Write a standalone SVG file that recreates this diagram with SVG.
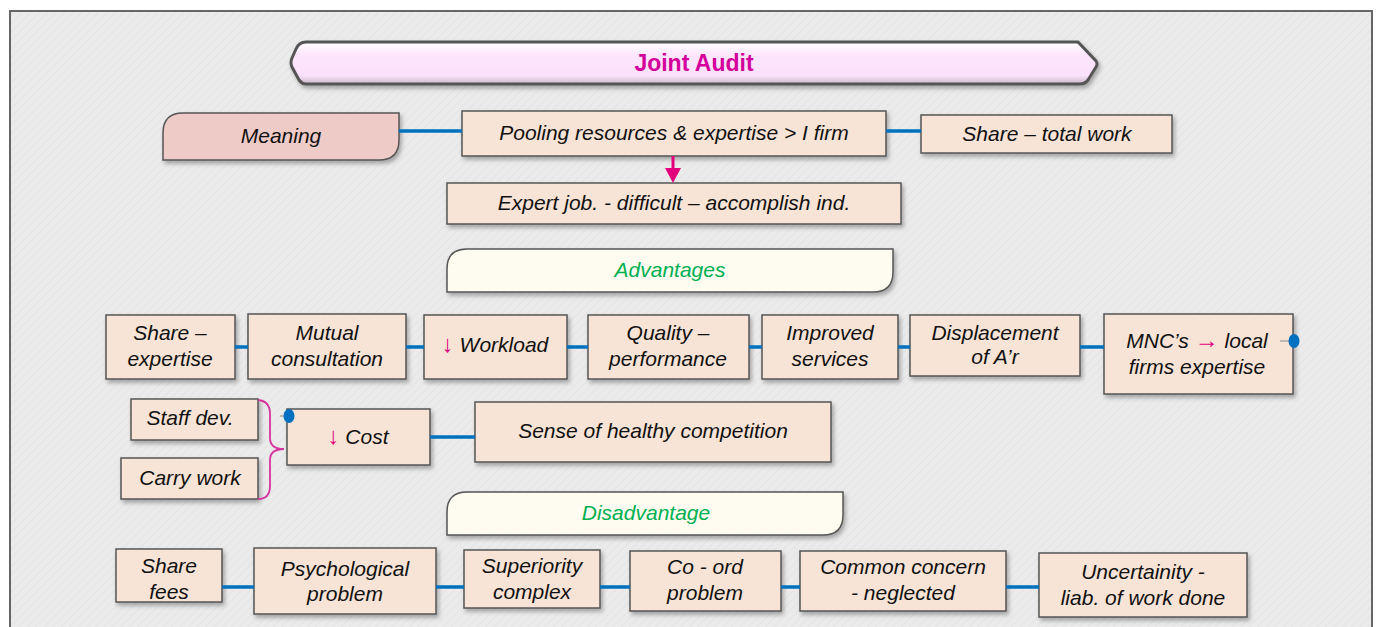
<svg xmlns="http://www.w3.org/2000/svg" width="1376" height="627" viewBox="0 0 1376 627">
<defs>
<filter id="sh" x="-10%" y="-20%" width="125%" height="150%">
<feDropShadow dx="2" dy="3" stdDeviation="2" flood-color="#000" flood-opacity="0.3"/>
</filter>
<linearGradient id="tg" x1="0" y1="0" x2="0" y2="1">
<stop offset="0" stop-color="#ffffff"/>
<stop offset="0.3" stop-color="#fde6fd"/>
<stop offset="0.8" stop-color="#fbe1fb"/>
<stop offset="1" stop-color="#c9b9c9"/>
</linearGradient>
<pattern id="bgp" width="6" height="6" patternUnits="userSpaceOnUse" patternTransform="rotate(45)">
<rect width="6" height="6" fill="#ebebeb"/>
<line x1="0" y1="0" x2="0" y2="6" stroke="#e4e4e4" stroke-width="2"/>
</pattern>
</defs>
<style>
.box{fill:#f7e4d6;stroke:#555;stroke-width:1.5;filter:url(#sh)}
.t{font-family:"Liberation Sans","DejaVu Sans",sans-serif;font-style:italic;font-size:21px;fill:#111;text-anchor:middle}
.g{fill:#00b050}
.m{fill:#e3007d;font-style:normal;font-weight:bold;font-size:24px}
.c{stroke:#0070c0;stroke-width:3.5;fill:none}
</style>
<rect x="0" y="0" width="1376" height="627" fill="#ffffff"/>
<rect x="10" y="11" width="1362" height="630" fill="url(#bgp)" stroke="#666" stroke-width="2"/>

<g id="title">
<path d="M306,42 L1078,42 L1096,61 Q1098,64 1096,67 L1088,80 Q1085,84 1080,84 L306,84 Q302,84 299,80 L292,67 Q290,63 292,58 L296,49 Q299,42 306,42 Z" fill="url(#tg)" stroke="#555" stroke-width="3" filter="url(#sh)"/>
<text x="694" y="71" font-family="'Liberation Sans',sans-serif" font-weight="bold" font-size="23" fill="#d4009b" text-anchor="middle">Joint Audit</text>
</g>

<g id="meaning">
<path d="M183,113 L399,113 L399,140 Q399,160 379,160 L163,160 L163,133 Q163,113 183,113 Z" fill="#efcbc8" stroke="#555" stroke-width="1.5" filter="url(#sh)"/>
<text class="t" x="281" y="143">Meaning</text>
</g>
<g id="pooling"><rect class="box" x="462" y="111" width="424" height="45"/><text class="t" x="674" y="140">Pooling resources &amp; expertise &gt; I firm</text></g>
<g id="share-total"><rect class="box" x="921" y="115" width="251" height="38"/><text class="t" x="1047" y="141">Share – total work</text></g>
<g id="expert"><rect class="box" x="447" y="183" width="454" height="41"/><text class="t" x="674" y="210">Expert job. - difficult – accomplish ind.</text></g>

<g id="advantages">
<path d="M467,249 L893,249 L893,272 Q893,292 873,292 L447,292 L447,269 Q447,249 467,249 Z" fill="#fefbf0" stroke="#555" stroke-width="1.5" filter="url(#sh)"/>
<text class="t g" x="670" y="277">Advantages</text>
</g>

<g id="share-expertise"><rect class="box" x="106" y="315" width="129" height="64"/><text class="t" x="170" y="340">Share –</text><text class="t" x="170" y="366">expertise</text></g>
<g id="mutual"><rect class="box" x="248" y="314" width="158" height="65"/><text class="t" x="327" y="340">Mutual</text><text class="t" x="327" y="366">consultation</text></g>
<g id="workload"><rect class="box" x="424" y="315" width="143" height="64"/><text class="t" x="495" y="352"><tspan class="m">↓</tspan> Workload</text></g>
<g id="quality"><rect class="box" x="588" y="315" width="161" height="64"/><text class="t" x="668" y="340">Quality –</text><text class="t" x="668" y="366">performance</text></g>
<g id="improved"><rect class="box" x="762" y="315" width="136" height="64"/><text class="t" x="830" y="340">Improved</text><text class="t" x="830" y="366">services</text></g>
<g id="displacement"><rect class="box" x="910" y="315" width="170" height="61"/><text class="t" x="995" y="340">Displacement</text><text class="t" x="995" y="364">of A’r</text></g>
<g id="mnc"><rect class="box" x="1104" y="314" width="189" height="80"/><text class="t" x="1197" y="348">MNC’s <tspan class="m">→</tspan> local</text><text class="t" x="1197" y="374">firms expertise</text></g>

<g id="staff"><rect class="box" x="131" y="399" width="127" height="41"/><text class="t" x="190" y="425">Staff dev.</text></g>
<g id="carry"><rect class="box" x="121" y="458" width="137" height="41"/><text class="t" x="190" y="485">Carry work</text></g>
<g id="cost"><rect class="box" x="287" y="409" width="143" height="56"/><text class="t" x="358" y="444"><tspan class="m">↓</tspan> Cost</text></g>
<g id="sense"><rect class="box" x="475" y="402" width="356" height="60"/><text class="t" x="653" y="438">Sense of healthy competition</text></g>

<g id="disadvantage">
<path d="M467,492 L843,492 L843,515 Q843,535 823,535 L447,535 L447,512 Q447,492 467,492 Z" fill="#fefbf0" stroke="#555" stroke-width="1.5" filter="url(#sh)"/>
<text class="t g" x="646" y="520">Disadvantage</text>
</g>

<g id="share-fees"><rect class="box" x="116" y="549" width="106" height="53"/><text class="t" x="169" y="573">Share</text><text class="t" x="169" y="599">fees</text></g>
<g id="psych"><rect class="box" x="254" y="548" width="182" height="66"/><text class="t" x="345" y="576">Psychological</text><text class="t" x="345" y="601">problem</text></g>
<g id="superiority"><rect class="box" x="464" y="550" width="136" height="58"/><text class="t" x="532" y="573">Superiority</text><text class="t" x="532" y="599">complex</text></g>
<g id="coord"><rect class="box" x="630" y="551" width="151" height="60"/><text class="t" x="705" y="574">Co - ord</text><text class="t" x="705" y="600">problem</text></g>
<g id="common"><rect class="box" x="800" y="551" width="206" height="60"/><text class="t" x="903" y="574">Common concern</text><text class="t" x="903" y="600">- neglected</text></g>
<g id="uncertainity"><rect class="box" x="1039" y="553" width="208" height="64"/><text class="t" x="1143" y="579">Uncertainity -</text><text class="t" x="1143" y="605">liab. of work done</text></g>

<g id="connectors">
<line class="c" x1="399" y1="131" x2="462" y2="131"/>
<line class="c" x1="886" y1="131" x2="921" y2="131"/>
<line x1="673" y1="156" x2="673" y2="170" stroke="#e3007d" stroke-width="3"/>
<polygon points="665,168 681,168 673,183" fill="#e3007d"/>
<line class="c" x1="235" y1="347" x2="248" y2="347"/>
<line class="c" x1="406" y1="347" x2="424" y2="347"/>
<line class="c" x1="567" y1="347" x2="588" y2="347"/>
<line class="c" x1="749" y1="347" x2="762" y2="347"/>
<line class="c" x1="898" y1="347" x2="910" y2="347"/>
<line class="c" x1="1080" y1="347" x2="1104" y2="347"/>
<line x1="1280" y1="341" x2="1293" y2="341" stroke="#888" stroke-width="1"/>
<ellipse cx="1294" cy="341" rx="5.5" ry="7" fill="#0070c0"/>
<line class="c" x1="430" y1="437" x2="475" y2="437"/>
<line x1="280" y1="416" x2="289" y2="416" stroke="#888" stroke-width="1"/>
<ellipse cx="289" cy="416" rx="5.5" ry="7" fill="#0070c0"/>
<path d="M258,400 Q270,401 270,414 L270,438 Q270,449 284,449 Q270,449 270,460 L270,486 Q270,499 258,499" fill="none" stroke="#d6359f" stroke-width="1.8"/>
<line class="c" x1="222" y1="587" x2="254" y2="587"/>
<line class="c" x1="436" y1="587" x2="464" y2="587"/>
<line class="c" x1="600" y1="587" x2="630" y2="587"/>
<line class="c" x1="781" y1="587" x2="800" y2="587"/>
<line class="c" x1="1006" y1="587" x2="1039" y2="587"/>
</g>
</svg>
